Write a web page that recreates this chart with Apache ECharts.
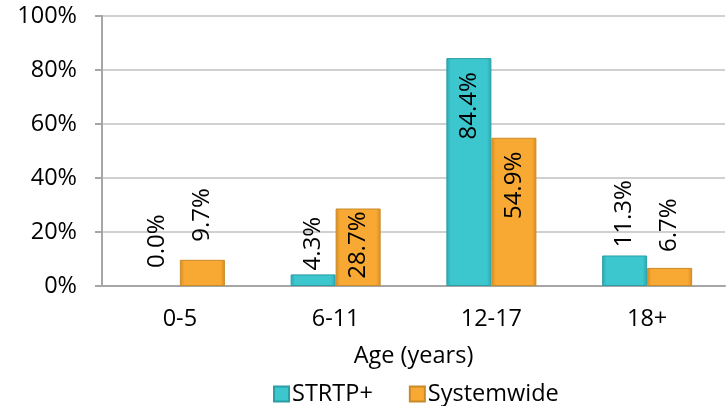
<!DOCTYPE html>
<html>
<head>
    <meta charset="utf-8">
    <script src="https://cdn.jsdelivr.net/npm/echarts@6/dist/echarts.min.js"></script>
    <style>
        html, body { margin: 0; padding: 0; background: #fff; }
    </style>
</head>
<body>
    <div id="main" style="width: 728px;height:406px;"></div>
    <script type="text/javascript">
        // data
        var categories = ['0-5', '6-11', '12-17', '18+'];
        var seriesNames = ['STRTP+', 'Systemwide'];
        var strtpValues = [0.0, 4.3, 84.4, 11.3];
        var systemwideValues = [9.7, 28.7, 54.9, 6.7];
        var yTicks = [0, 20, 40, 60, 80, 100];

        // label gap from bar end (px), as placed in the original
        var strtpLabelGap = [18, 4, 14, 8];
        var systemwideLabelGap = [18, 3, 14, 16];

        var FONT = 'Open Sans';
        var FS = 23.5;

        // bevel-ish look: darker edges, flat face
        function barFill(dark, base) {
            return new echarts.graphic.LinearGradient(0, 0, 1, 0, [
                { offset: 0, color: dark },
                { offset: 0.1, color: base },
                { offset: 0.9, color: base },
                { offset: 1, color: dark }
            ]);
        }

        // labels go inside the bar when it is tall enough
        function makeData(values, gaps) {
            return values.map(function (v, i) {
                var inside = v >= 20;
                var d = {
                    value: v,
                    label: inside ? {
                        position: 'insideTop',
                        align: 'right',
                        verticalAlign: 'middle',
                        distance: gaps[i]
                    } : {
                        position: 'top',
                        align: 'left',
                        verticalAlign: 'middle',
                        distance: gaps[i]
                    }
                };
                if (v === 0) d.itemStyle = { borderWidth: 0 };
                return d;
            });
        }

        var labelBase = {
            show: true,
            rotate: 90,
            color: '#000',
            fontFamily: FONT,
            fontSize: 24,
            formatter: function (p) { return p.value.toFixed(1) + '%'; }
        };

        var myChart = echarts.init(document.getElementById('main'));
        var option = {
            animation: false,
            textStyle: { fontFamily: FONT },
            grid: { left: 102, right: 3, top: 16, bottom: 120 },
            legend: {
                data: seriesNames,
                left: 268,
                top: 377,
                itemWidth: 15,
                itemHeight: 15,
                itemGap: 36,
                icon: 'rect',
                textStyle: { fontFamily: FONT, fontSize: FS, color: '#000', padding: [0, 0, 0, -2] }
            },
            xAxis: {
                type: 'category',
                data: categories,
                name: 'Age (years)',
                nameLocation: 'middle',
                nameGap: 58,
                nameTextStyle: { fontFamily: FONT, fontSize: FS, color: '#000' },
                axisLine: { lineStyle: { color: '#a6a6a6', width: 2 } },
                axisTick: { show: false },
                axisLabel: { fontFamily: FONT, fontSize: FS, color: '#000', margin: 21 }
            },
            yAxis: {
                type: 'value',
                min: yTicks[0],
                max: yTicks[yTicks.length - 1],
                interval: 20,
                axisLine: { show: true, lineStyle: { color: '#a6a6a6', width: 2 } },
                axisTick: { show: true, length: 7, lineStyle: { color: '#a6a6a6', width: 2 } },
                axisLabel: {
                    fontFamily: FONT, fontSize: FS, color: '#000', margin: 25,
                    formatter: '{value}%'
                },
                splitLine: { lineStyle: { color: '#d0d0d0', width: 2 } }
            },
            series: [
                {
                    name: seriesNames[0],
                    type: 'bar',
                    barWidth: 45,
                    barGap: '0%',
                    data: makeData(strtpValues, strtpLabelGap),
                    label: labelBase,
                    itemStyle: {
                        color: barFill('#2aa8b0', '#3cc6ce'),
                        borderColor: '#2b9ea6',
                        borderWidth: 1
                    }
                },
                {
                    name: seriesNames[1],
                    type: 'bar',
                    barWidth: 45,
                    barGap: '0%',
                    data: makeData(systemwideValues, systemwideLabelGap),
                    label: labelBase,
                    itemStyle: {
                        color: barFill('#d98d1f', '#f7a934'),
                        borderColor: '#c98a2a',
                        borderWidth: 1
                    }
                }
            ]
        };
        myChart.setOption(option);
    </script>
</body>
</html>
